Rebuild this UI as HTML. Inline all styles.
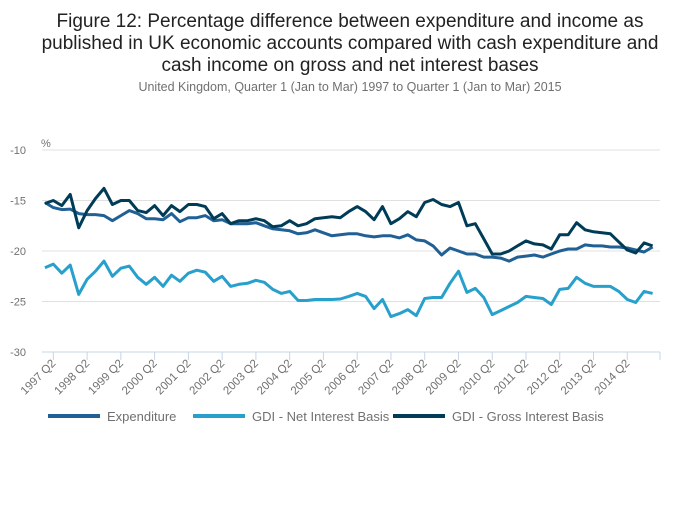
<!DOCTYPE html>
<html><head><meta charset="utf-8"><style>
body{margin:0;background:#fff;width:700px;height:502px;overflow:hidden;font-family:"Liberation Sans",sans-serif}
</style></head><body>
<svg id="c" width="700" height="502" xmlns="http://www.w3.org/2000/svg">
<text x="350" y="27" text-anchor="middle" font-size="19" fill="#222">Figure 12: Percentage difference between expenditure and income as</text>
<text x="350" y="49" text-anchor="middle" font-size="19" fill="#222">published in UK economic accounts compared with cash expenditure and</text>
<text x="350" y="71" text-anchor="middle" font-size="19" fill="#222">cash income on gross and net interest bases</text>
<text x="350" y="91" text-anchor="middle" font-size="12.5" fill="#707070">United Kingdom, Quarter 1 (Jan to Mar) 1997 to Quarter 1 (Jan to Mar) 2015</text>
<text x="41" y="147" font-size="11" fill="#707070">%</text>
<g id="grid"></g><g id="xax"></g><g id="lines"></g><g id="legend"></g>
</svg>
<script>
const yTicks=[-10,-15,-20,-25,-30];
const xTickLabels=["1997 Q2","1998 Q2","1999 Q2","2000 Q2","2001 Q2","2002 Q2","2003 Q2","2004 Q2","2005 Q2","2006 Q2","2007 Q2","2008 Q2","2009 Q2","2010 Q2","2011 Q2","2012 Q2","2013 Q2","2014 Q2"];
const expenditure=[-15.2,-15.7,-15.9,-15.85,-16.3,-16.4,-16.4,-16.5,-17.0,-16.5,-16.0,-16.3,-16.8,-16.8,-16.9,-16.3,-17.1,-16.7,-16.7,-16.5,-17.0,-16.9,-17.3,-17.3,-17.3,-17.2,-17.5,-17.8,-17.9,-18.0,-18.3,-18.2,-17.9,-18.2,-18.5,-18.4,-18.3,-18.3,-18.5,-18.6,-18.5,-18.5,-18.7,-18.4,-18.9,-19.0,-19.5,-20.4,-19.7,-20.0,-20.3,-20.3,-20.6,-20.6,-20.7,-21.0,-20.6,-20.5,-20.4,-20.6,-20.3,-20.0,-19.8,-19.8,-19.4,-19.5,-19.5,-19.6,-19.6,-19.7,-19.9,-20.1,-19.6];
const netInterest=[-21.65,-21.3,-22.2,-21.4,-24.3,-22.8,-22.0,-21.0,-22.5,-21.7,-21.5,-22.6,-23.3,-22.6,-23.5,-22.4,-23.0,-22.2,-21.9,-22.1,-23.0,-22.5,-23.5,-23.3,-23.2,-22.9,-23.1,-23.8,-24.2,-24.0,-24.9,-24.9,-24.8,-24.8,-24.8,-24.75,-24.5,-24.2,-24.5,-25.7,-24.8,-26.5,-26.2,-25.8,-26.4,-24.7,-24.6,-24.6,-23.2,-22.0,-24.1,-23.7,-24.6,-26.3,-25.9,-25.5,-25.1,-24.5,-24.6,-24.7,-25.3,-23.8,-23.7,-22.6,-23.2,-23.5,-23.5,-23.5,-24.0,-24.8,-25.1,-24.0,-24.2];
const grossInterest=[-15.3,-15.0,-15.5,-14.4,-17.7,-16.0,-14.8,-13.8,-15.4,-15.0,-15.0,-16.0,-16.2,-15.5,-16.5,-15.5,-16.1,-15.4,-15.4,-15.6,-16.8,-16.3,-17.3,-17.0,-17.0,-16.8,-17.0,-17.6,-17.5,-17.0,-17.5,-17.3,-16.8,-16.7,-16.6,-16.7,-16.1,-15.6,-16.1,-16.9,-15.6,-17.3,-16.8,-16.1,-16.6,-15.2,-14.9,-15.4,-15.6,-15.2,-17.5,-17.3,-18.8,-20.3,-20.3,-20.0,-19.5,-19.0,-19.3,-19.4,-19.8,-18.4,-18.4,-17.2,-17.9,-18.1,-18.2,-18.3,-19.1,-19.9,-20.2,-19.2,-19.5];
const seriesNames=["Expenditure","GDI - Net Interest Basis","GDI - Gross Interest Basis"];
const NS="http://www.w3.org/2000/svg";
const X0=44.9,DX=8.44,L=42,R=660;
function xq(i){return X0+i*DX;}
function yv(v){return 150+(-10-v)*10.1;}
function mk(t,a,p){const e=document.createElementNS(NS,t);for(const k in a)e.setAttribute(k,a[k]);p.appendChild(e);return e;}
const grid=document.getElementById('grid');
yTicks.forEach(v=>{
  const l=mk('line',{x1:L,x2:R,y1:yv(v),y2:yv(v),stroke:v===-30?'#c6d4e6':'#e0e0e0','stroke-width':1},grid);
  
  
  const t=mk('text',{x:26,y:yv(v)+4,'text-anchor':'end','font-size':11,fill:'#707070'},grid);
  t.textContent=v;
  
  
});
const xax=document.getElementById('xax');
xTickLabels.forEach((s,k)=>{
  const x=xq(1+4*k),y=yv(-30);
  const tk=mk('line',{x1:x,x2:x,y1:y,y2:y+8,stroke:'#c6d4e6'},xax);
  
  
  const t=mk('text',{x:x+3,y:y+12,'text-anchor':'end','font-size':11.5,fill:'#707070',transform:`rotate(-45 ${x+3} ${y+12})`},xax);
  t.textContent=s;
  
  
});
const et=mk('line',{x1:R,x2:R,y1:yv(-30),y2:yv(-30)+8,stroke:'#c6d4e6'},xax);


const colors=['#206095','#27a0cc','#003c57'];
const data=[expenditure,netInterest,grossInterest];
const names=['expenditure-line','net-interest-line','gross-interest-line'];
const lines=document.getElementById('lines');
data.forEach((d,s)=>{
  const p=mk('path',{d:d.map((v,i)=>(i?'L':'M')+xq(i).toFixed(1)+' '+yv(v).toFixed(1)).join(''),fill:'none',stroke:colors[s],'stroke-width':3,'stroke-linejoin':'round'},lines);
  
  
});
const lg=document.getElementById('legend');
const lx=[48,193,393];
seriesNames.forEach((n,s)=>{
  const g=mk('g',{},lg);
  
  
  mk('line',{x1:lx[s],x2:lx[s]+52,y1:416,y2:416,stroke:colors[s],'stroke-width':4},g);
  const t=mk('text',{x:lx[s]+59,y:421,'font-size':13,fill:'#707070'},g);
  t.textContent=n;
});
</script>
</body></html>
